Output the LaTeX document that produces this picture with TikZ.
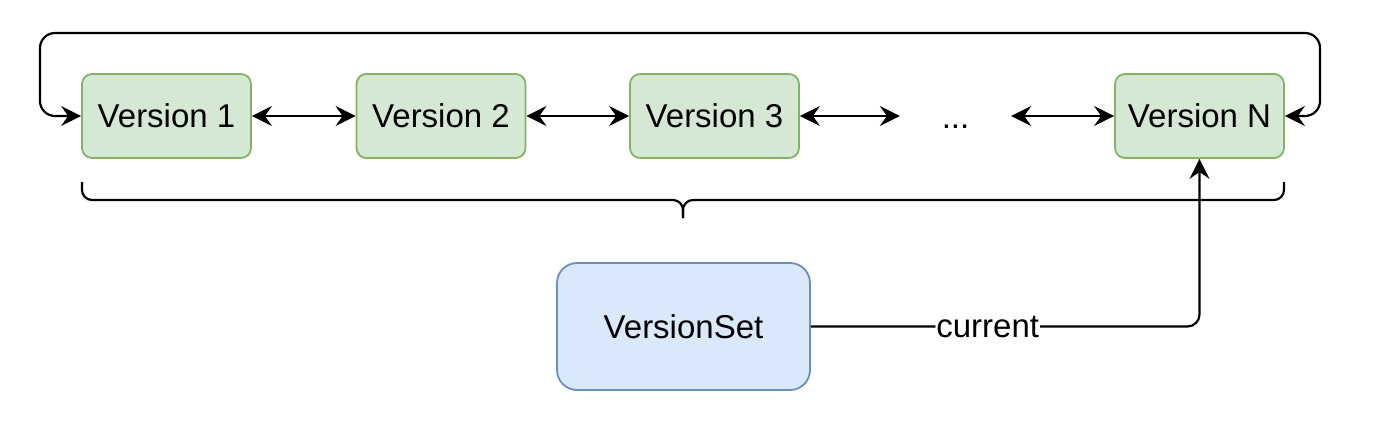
\documentclass[tikz,border=0pt]{standalone}
\usepackage{fontspec}
\setmainfont{Liberation Sans}
\usetikzlibrary{arrows.meta}
\definecolor{gfill}{HTML}{D5E8D4}
\definecolor{gline}{HTML}{82B366}
\definecolor{bfill}{HTML}{DAE8FC}
\definecolor{bline}{HTML}{6C8EBF}
\tikzset{
  txt/.style={font=\fontsize{33}{38}\selectfont},
  ver/.style={txt, draw=gline, fill=gfill, line width=1.8pt, rounded corners=10pt,
    minimum width=169pt, minimum height=84pt, inner sep=0pt},
  vset/.style={txt, draw=bline, fill=bfill, line width=1.8pt, rounded corners=20pt,
    minimum width=253pt, minimum height=127pt, inner sep=0pt},
  conn/.style={line width=2.2pt, {Stealth[length=20pt,width=20pt,inset=7pt]}-{Stealth[length=20pt,width=20pt,inset=7pt]}},
  oneway/.style={line width=2.2pt, -{Stealth[length=20pt,width=20pt,inset=7pt]}},
  lbl/.style={txt, fill=white, inner sep=1pt},
  plain/.style={line width=2.2pt}
}
\begin{document}
\begin{tikzpicture}[x=1pt,y=-1pt]
\useasboundingbox (0,0) rectangle (1383,420);
\node[ver] (v1) at (166.5,116) {Version 1};
\node[ver] (v2) at (441,116) {Version 2};
\node[ver] (v3) at (714.5,116) {Version 3};
\node[txt, minimum width=111pt, inner sep=0pt, anchor=base] (dots) at (955.5,128) {...};
\node[ver] (vN) at (1199.5,116) {Version N};
\node[vset] (vs) at (683.5,326.5) {VersionSet};
\draw[conn] (v1) -- (v2);
\draw[conn] (v2) -- (v3);
\draw[conn] (v3.east) -- (v3.east -| dots.west);
\draw[conn] (vN.west -| dots.east) -- (vN.west);
\coordinate (r1) at (1320,116);
\coordinate (r2) at (1320,33);
\coordinate (l2) at (40,33);
\coordinate (l1) at (40,116);
\draw[conn, rounded corners=15pt] (vN.east) -- (r1) -- (r2) -- (l2) -- (l1) -- (v1.west);
\coordinate (bl) at (82,182);
\coordinate (br) at (1284,182);
\coordinate (bm) at (683,200);
\coordinate (bt) at (683,218);
\draw[plain, rounded corners=10pt] (bl) |- (bm) -- (bt);
\draw[plain, rounded corners=10pt] (br) |- (bm) -- (bt);
\coordinate (turn) at (vs.east -| vN.south);
\draw[oneway, rounded corners=12pt] (vs.east) -- node[lbl, pos=0.455] {current} (turn) -- (vN.south);
\end{tikzpicture}
\end{document}
